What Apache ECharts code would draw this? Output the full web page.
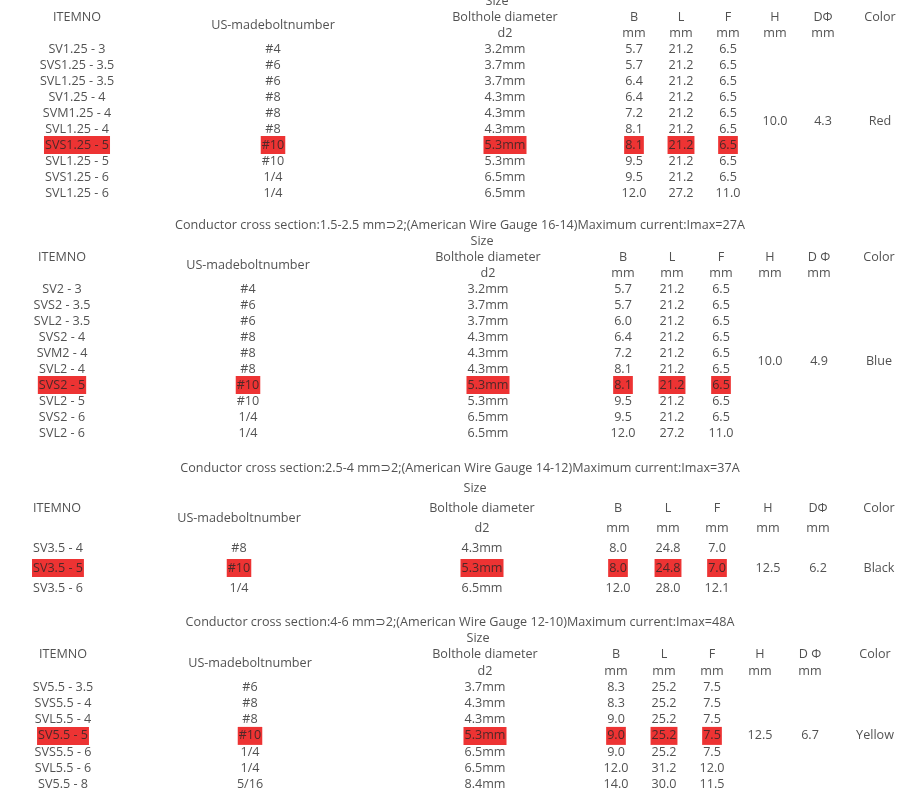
<!DOCTYPE html>
<html>
<head>
<meta charset="utf-8">
<script src="https://cdn.jsdelivr.net/npm/echarts@6/dist/echarts.min.js"></script>
<style>
html,body{margin:0;padding:0;background:#fff;}
#chart{width:923px;height:802px;}
</style>
</head>
<body>
<div id="chart"></div>
<script>
// ---------------- DATA ----------------
const headerRow1 = ['ITEMNO', 'Bolthole diameter', 'B', 'L', 'F', 'H', 'Color'];
const headerBolt = 'US-madeboltnumber';
const headerSize = 'Size';
const headerD2 = 'd2';
const headerUnit = 'mm';

// Section 1 (top, title outside the picture)
const items1 = ['SV1.25 - 3', 'SVS1.25 - 3.5', 'SVL1.25 - 3.5', 'SV1.25 - 4', 'SVM1.25 - 4', 'SVL1.25 - 4', 'SVS1.25 - 5', 'SVL1.25 - 5', 'SVS1.25 - 6', 'SVL1.25 - 6'];
const bolt1 = ['#4', '#6', '#6', '#8', '#8', '#8', '#10', '#10', '1/4', '1/4'];
const d2_1 = ['3.2mm', '3.7mm', '3.7mm', '4.3mm', '4.3mm', '4.3mm', '5.3mm', '5.3mm', '6.5mm', '6.5mm'];
const B1 = [5.7, 5.7, 6.4, 6.4, 7.2, 8.1, 8.1, 9.5, 9.5, 12.0];
const L1 = [21.2, 21.2, 21.2, 21.2, 21.2, 21.2, 21.2, 21.2, 21.2, 27.2];
const F1 = [6.5, 6.5, 6.5, 6.5, 6.5, 6.5, 6.5, 6.5, 6.5, 11.0];
const H1 = 10.0, D1 = 4.3, color1 = 'Red', dHead1 = 'DΦ', hi1 = 6;

// Section 2
const title2 = 'Conductor cross section:1.5-2.5 mm⊃2;(American Wire Gauge 16-14)Maximum current:Imax=27A';
const items2 = ['SV2 - 3', 'SVS2 - 3.5', 'SVL2 - 3.5', 'SVS2 - 4', 'SVM2 - 4', 'SVL2 - 4', 'SVS2 - 5', 'SVL2 - 5', 'SVS2 - 6', 'SVL2 - 6'];
const bolt2 = ['#4', '#6', '#6', '#8', '#8', '#8', '#10', '#10', '1/4', '1/4'];
const d2_2 = ['3.2mm', '3.7mm', '3.7mm', '4.3mm', '4.3mm', '4.3mm', '5.3mm', '5.3mm', '6.5mm', '6.5mm'];
const B2 = [5.7, 5.7, 6.0, 6.4, 7.2, 8.1, 8.1, 9.5, 9.5, 12.0];
const L2 = [21.2, 21.2, 21.2, 21.2, 21.2, 21.2, 21.2, 21.2, 21.2, 27.2];
const F2 = [6.5, 6.5, 6.5, 6.5, 6.5, 6.5, 6.5, 6.5, 6.5, 11.0];
const H2 = 10.0, D2 = 4.9, color2 = 'Blue', dHead2 = 'D Φ', hi2 = 6;

// Section 3
const title3 = 'Conductor cross section:2.5-4 mm⊃2;(American Wire Gauge 14-12)Maximum current:Imax=37A';
const items3 = ['SV3.5 - 4', 'SV3.5 - 5', 'SV3.5 - 6'];
const bolt3 = ['#8', '#10', '1/4'];
const d2_3 = ['4.3mm', '5.3mm', '6.5mm'];
const B3 = [8.0, 8.0, 12.0];
const L3 = [24.8, 24.8, 28.0];
const F3 = [7.0, 7.0, 12.1];
const H3 = 12.5, D3 = 6.2, color3 = 'Black', dHead3 = 'DΦ', hi3 = 1;

// Section 4
const title4 = 'Conductor cross section:4-6 mm⊃2;(American Wire Gauge 12-10)Maximum current:Imax=48A';
const items4 = ['SV5.5 - 3.5', 'SVS5.5 - 4', 'SVL5.5 - 4', 'SV5.5 - 5', 'SVS5.5 - 6', 'SVL5.5 - 6', 'SV5.5 - 8'];
const bolt4 = ['#6', '#8', '#8', '#10', '1/4', '1/4', '5/16'];
const d2_4 = ['3.7mm', '4.3mm', '4.3mm', '5.3mm', '6.5mm', '6.5mm', '8.4mm'];
const B4 = [8.3, 8.3, 9.0, 9.0, 9.0, 12.0, 14.0];
const L4 = [25.2, 25.2, 25.2, 25.2, 25.2, 31.2, 30.0];
const F4 = [7.5, 7.5, 7.5, 7.5, 7.5, 12.0, 11.5];
const H4 = 12.5, D4 = 6.7, color4 = 'Yellow', dHead4 = 'D Φ', hi4 = 3;

const sections = [
  {title: null,   items: items1, bolt: bolt1, d2: d2_1, B: B1, L: L1, F: F1, H: H1, D: D1, color: color1, dHead: dHead1, hi: hi1},
  {title: title2, items: items2, bolt: bolt2, d2: d2_2, B: B2, L: L2, F: F2, H: H2, D: D2, color: color2, dHead: dHead2, hi: hi2},
  {title: title3, items: items3, bolt: bolt3, d2: d2_3, B: B3, L: L3, F: F3, H: H3, D: D3, color: color3, dHead: dHead3, hi: hi3},
  {title: title4, items: items4, bolt: bolt4, d2: d2_4, B: B4, L: L4, F: F4, H: H4, D: D4, color: color4, dHead: dHead4, hi: hi4}
];

// ---------------- LAYOUT (positions / styles) ----------------
// top = y of the "Size" row (row 0); title sits one pitch above it
const layout = [
  {top: 1,     pitch: 16,   itemAlign: 'center', x: {item: 77, bolt: 273, size: 497, hole: 505, B: 634, L: 681, F: 728, H: 775, D: 823, color: 880}},
  {top: 241,   pitch: 16,   itemAlign: 'center', x: {item: 62, bolt: 248, size: 482, hole: 488, B: 623, L: 672, F: 721, H: 770, D: 819, color: 879}},
  {top: 488,   pitch: 20,   itemAlign: 'left',   x: {item: 32, bolt: 239, size: 475, hole: 482, B: 618, L: 668, F: 717, H: 768, D: 818, color: 879}},
  {top: 638.7, pitch: 16.2, itemAlign: 'center', x: {item: 63, bolt: 250, size: 478, hole: 485, B: 616, L: 664, F: 712, H: 760, D: 810, color: 875}}
];
const TITLE_X = 460;
const TEXT_COLOR = '#262626';
const HI_COLOR = '#e80000';
const FONT = '"Open Sans", "DejaVu Sans", sans-serif';
const FONT_SIZE = 12.6;

// ---------------- BUILD ----------------
const grids = [], xAxes = [], yAxes = [], series = [];
sections.forEach((s, i) => {
  const lay = layout[i];
  const n = s.items.length;
  const lastRow = 2 + n;               // rows: -1 title, 0 Size, 1 header, 1.5 bolt header, 2 d2/mm, 3.. data
  const minRow = s.title ? -1 : 0;
  grids.push({left: 0, right: 0, top: lay.top + minRow * lay.pitch, height: lay.pitch * (lastRow - minRow)});
  xAxes.push({type: 'value', gridIndex: i, min: 0, max: 923, show: false});
  yAxes.push({type: 'value', gridIndex: i, min: minRow, max: lastRow, inverse: true, show: false});

  const X = lay.x;
  const data = [];
  const add = (text, x, row, extra) => {
    const d = {name: String(text), value: [x, row]};
    if (extra) d.label = extra;
    data.push(d);
  };
  if (s.title) add(s.title, TITLE_X, -1);
  add(headerSize, X.size, 0);
  add(headerRow1[0], X.item, 1, lay.itemAlign === 'left' ? {align: 'left'} : null);
  add(headerBolt, X.bolt, 1.5);
  add(headerRow1[1], X.hole, 1);
  add(headerRow1[2], X.B, 1);
  add(headerRow1[3], X.L, 1);
  add(headerRow1[4], X.F, 1);
  add(headerRow1[5], X.H, 1);
  add(s.dHead, X.D, 1);
  add(headerRow1[6], X.color, 1);
  add(headerD2, X.hole, 2);
  ['B', 'L', 'F', 'H', 'D'].forEach(k => add(headerUnit, X[k], 2));

  const hiStyle = {backgroundColor: HI_COLOR};
  for (let r = 0; r < n; r++) {
    const row = 3 + r;
    const isHi = r === s.hi;
    const itemExtra = Object.assign({}, isHi ? hiStyle : {}, lay.itemAlign === 'left' ? {align: 'left'} : {});
    add(s.items[r], X.item, row, Object.keys(itemExtra).length ? itemExtra : null);
    add(s.bolt[r], X.bolt, row, isHi ? hiStyle : null);
    add(s.d2[r], X.hole, row, isHi ? hiStyle : null);
    add(s.B[r].toFixed(1), X.B, row, isHi ? hiStyle : null);
    add(s.L[r].toFixed(1), X.L, row, isHi ? hiStyle : null);
    add(s.F[r].toFixed(1), X.F, row, isHi ? hiStyle : null);
  }
  const mid = 3 + (n - 1) / 2;
  add(s.H.toFixed(1), X.H, mid);
  add(s.D.toFixed(1), X.D, mid);
  add(s.color, X.color, mid);

  series.push({
    type: 'scatter',
    xAxisIndex: i,
    yAxisIndex: i,
    symbolSize: 0,
    clip: false,
    silent: true,
    animation: false,
    label: {
      show: true,
      position: 'inside',
      formatter: '{b}',
      color: TEXT_COLOR,
      fontFamily: FONT,
      fontSize: FONT_SIZE,
      lineHeight: 18,
      padding: [0, 1]
    },
    data: data
  });
});

const chart = echarts.init(document.getElementById('chart'), null, {renderer: 'canvas'});
chart.setOption({
  backgroundColor: '#fff',
  animation: false,
  grid: grids,
  xAxis: xAxes,
  yAxis: yAxes,
  series: series
});
</script>
</body>
</html>
